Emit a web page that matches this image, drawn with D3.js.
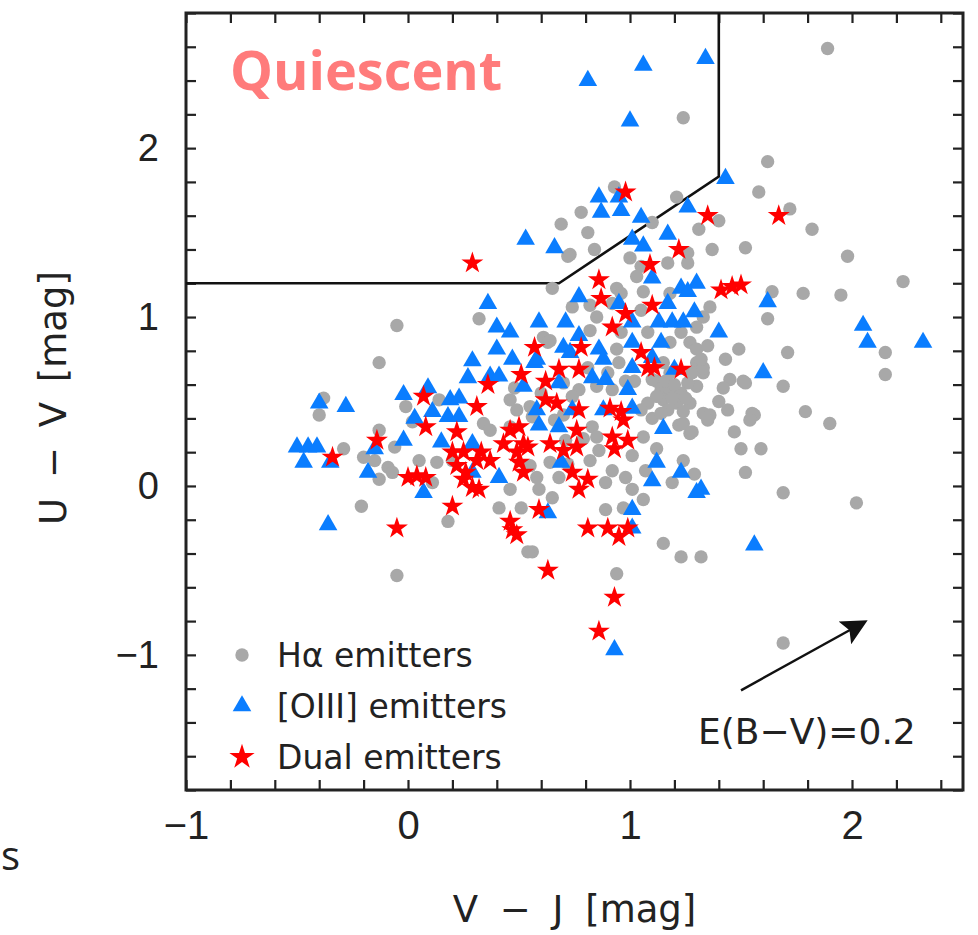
<!DOCTYPE html>
<html>
<head>
<meta charset="utf-8">
<script src="https://cdn.jsdelivr.net/npm/d3@7"></script>
<style>
  body { margin: 0; background: #fff; }
  svg { display: block; }
</style>
</head>
<body>
<div id="chart"></div>
<script>
// V-J, U-V colours
const haPoints = [
  [1.89, 2.59], [1.24, 2.18], [1.62, 1.92], [1.58, 1.74], [1.72, 1.64], [1.82, 1.52], [1.98, 1.36],
  [2.23, 1.21], [1.40, 1.57], [1.31, 1.52], [1.37, 1.40], [1.52, 1.41], [1.64, 1.15], [1.78, 1.14],
  [1.95, 1.13], [1.21, 1.71], [0.78, 1.62], [0.69, 1.55], [0.81, 1.50], [0.93, 1.77], [1.10, 1.56],
  [0.73, 1.37], [0.84, 1.40], [1.00, 1.35], [1.05, 1.30], [1.03, 1.24], [1.17, 1.32], [1.26, 1.32],
  [1.26, 1.38], [0.65, 1.17], [0.94, 1.17], [0.96, 1.14], [1.06, 1.15], [1.18, 1.14], [1.62, 0.99],
  [0.74, 1.06], [0.82, 1.07], [0.85, 1.00], [0.92, 1.08], [1.05, 1.04], [1.36, 1.06], [1.33, 1.00],
  [1.30, 0.94], [1.23, 0.91], [1.18, 0.85], [1.27, 0.85], [1.30, 0.81], [1.08, 0.91], [0.96, 0.91],
  [0.82, 0.92], [0.61, 0.88], [0.63, 0.85], [0.94, 0.81], [1.49, 0.81], [1.43, 0.75], [1.30, 0.73],
  [1.33, 0.67], [1.15, 0.73], [1.18, 0.67], [0.95, 0.73], [0.81, 0.70], [1.45, 0.63], [1.51, 0.62],
  [1.42, 0.58], [1.30, 0.59], [1.26, 0.61], [1.14, 0.57], [1.18, 0.57], [1.23, 0.55], [1.21, 0.49],
  [1.15, 0.51], [1.27, 0.49], [1.17, 0.45], [1.08, 0.49], [0.92, 0.57], [0.85, 0.59], [0.77, 0.57],
  [0.74, 0.53], [0.70, 0.61], [1.05, 0.45], [1.33, 0.43], [1.55, 0.43], [1.71, 0.79], [2.15, 0.79],
  [2.15, 0.66], [1.69, 0.59], [1.52, 0.61], [1.79, 0.44], [1.90, 0.37], [1.56, 0.42], [1.54, 0.39],
  [1.47, 0.32], [1.50, 0.22], [1.59, 0.22], [1.52, 0.08], [1.69, -0.04], [2.02, -0.10], [1.29, 0.07],
  [1.15, -0.34], [1.23, -0.42], [1.32, -0.42], [1.36, 0.42], [1.28, 0.67], [1.33, 0.70], [1.35, 0.83],
  [1.32, 0.75], [1.12, 0.62], [1.22, 0.36], [1.27, 0.31], [0.89, -0.14], [0.97, -0.13], [0.56, -0.39],
  [0.94, -0.52], [1.69, -0.93], [1.19, 0.02], [1.24, 0.15], [1.06, -0.08], [1.01, -0.02], [0.98, 0.05],
  [0.89, 0.02], [0.65, -0.07], [0.59, -0.02], [1.35, 0.39], [1.28, 0.32], [1.24, 0.37], [1.06, 0.29],
  [1.12, 0.22], [1.01, 0.18], [0.83, 0.35], [0.85, 0.29], [0.32, 0.99], [-0.05, 0.95], [-0.13, 0.73],
  [-0.38, 0.52], [-0.40, 0.42], [0.14, 0.51], [-0.01, 0.47], [0.46, 0.51], [0.49, 0.45], [0.64, 0.86],
  [0.02, 0.38], [0.34, 0.37], [0.37, 0.33], [0.46, 0.35], [-0.13, 0.33], [-0.29, 0.22], [-0.20, 0.17],
  [-0.15, 0.15], [-0.09, 0.11], [-0.07, 0.08], [-0.13, 0.04], [0.05, 0.15], [0.13, 0.14], [0.11, 0.02],
  [-0.06, 0.23], [0.20, 0.15], [0.46, -0.02], [0.18, -0.21], [-0.21, -0.12], [0.41, -0.13], [0.51, -0.13],
  [0.54, -0.39], [-0.05, -0.53], [0.72, 1.36], [0.56, 0.41], [0.64, 0.14], [0.58, 0.05], [0.68, 0.05],
  [0.66, 0.39], [0.71, 0.27], [0.82, 0.15], [0.86, 0.21], [0.55, 0.12], [0.92, 0.09], [1.07, 0.09],
  [1.10, 0.63], [1.16, 0.62], [1.20, 0.60], [1.25, 0.52], [1.12, 0.53], [1.19, 0.52], [1.24, 0.44],
  [1.10, 0.40], [1.14, 0.43], [0.98, 0.62], [0.90, 0.67], [1.02, 0.62], [0.70, 0.42], [0.55, 0.47],
  [0.60, 0.55], [0.48, 0.58], [0.79, 0.28], [0.72, 0.13], [1.40, 0.50], [1.44, 0.45]
];

const o3Points = [
  [0.81, 2.40], [1.06, 2.49], [1.34, 2.53], [1.00, 2.16], [1.43, 1.82], [0.86, 1.71], [0.95, 1.71],
  [0.87, 1.62], [0.96, 1.63], [1.05, 1.59], [1.26, 1.65], [1.17, 1.49], [1.06, 1.42], [1.01, 1.46],
  [0.66, 1.41], [0.53, 1.46], [1.10, 1.23], [1.23, 1.17], [1.30, 1.20], [1.26, 1.15], [1.62, 1.09],
  [0.77, 1.12], [0.95, 1.08], [1.17, 1.08], [0.59, 0.97], [0.71, 0.97], [0.77, 0.89], [0.70, 0.82],
  [0.73, 0.79], [0.86, 0.81], [0.88, 0.75], [1.01, 0.97], [1.13, 0.97], [1.19, 0.97], [1.24, 0.97],
  [1.29, 1.03], [1.40, 0.91], [1.14, 0.85], [1.01, 0.85], [1.60, 0.67], [0.57, 0.73], [0.68, 0.61],
  [0.83, 0.64], [0.89, 0.63], [0.99, 0.57], [1.01, 0.70], [1.10, 0.76], [1.20, 0.69], [0.88, 0.45],
  [1.01, 0.46], [0.74, 0.45], [0.36, 1.08], [0.40, 0.94], [0.46, 0.91], [0.40, 0.81], [0.29, 0.74],
  [0.47, 0.75], [0.58, 0.75], [0.27, 0.64], [0.37, 0.65], [0.41, 0.65], [0.09, 0.58], [-0.02, 0.54],
  [-0.40, 0.49], [-0.28, 0.47], [0.19, 0.51], [0.23, 0.52], [0.52, 0.59], [0.58, 0.45], [0.03, 0.40],
  [0.11, 0.44], [0.18, 0.41], [0.23, 0.41], [0.59, 0.36], [0.68, 0.35], [-0.02, 0.27], [0.15, 0.26],
  [0.29, 0.25], [-0.50, 0.23], [-0.45, 0.23], [-0.41, 0.23], [-0.47, 0.14], [-0.35, 0.14], [-0.15, 0.22],
  [-0.18, 0.08], [0.07, -0.04], [0.29, 0.08], [0.41, 0.05], [0.63, -0.16], [-0.36, -0.23], [1.01, -0.25],
  [1.01, -0.14], [0.93, -0.97], [1.56, -0.35], [1.32, -0.02], [1.30, -0.04], [1.23, 0.08], [1.15, 0.34],
  [1.12, 0.14], [1.10, 0.03], [2.05, 0.95], [2.07, 0.85], [2.32, 0.85], [0.69, 0.14]
];

const dualPoints = [
  [0.29, 1.32], [0.98, 1.74], [1.35, 1.60], [1.67, 1.60], [1.22, 1.40], [1.09, 1.31], [0.86, 1.22],
  [0.87, 1.11], [1.10, 1.07], [0.98, 1.02], [0.92, 0.94], [1.41, 1.16], [1.46, 1.18], [1.50, 1.19],
  [0.78, 0.82], [0.57, 0.82], [0.68, 0.69], [0.77, 0.69], [1.05, 0.79], [1.08, 0.70], [1.11, 0.70],
  [1.23, 0.69], [0.62, 0.62], [0.62, 0.51], [0.67, 0.49], [0.77, 0.45], [0.91, 0.46], [0.96, 0.44],
  [0.51, 0.66], [0.36, 0.60], [0.07, 0.53], [0.31, 0.47], [0.08, 0.35], [0.22, 0.32], [-0.14, 0.27],
  [-0.34, 0.17], [0.00, 0.05], [0.04, 0.06], [0.08, 0.05], [0.25, 0.20], [0.22, 0.12], [0.26, 0.08],
  [0.25, 0.04], [0.29, -0.01], [0.32, -0.02], [0.31, 0.15], [0.37, 0.15], [0.43, 0.25], [0.46, 0.33],
  [0.50, 0.35], [0.52, 0.25], [0.49, 0.20], [0.50, 0.14], [0.52, 0.08], [0.54, 0.23], [0.20, -0.12],
  [-0.05, -0.25], [0.59, -0.14], [0.46, -0.21], [0.47, -0.26], [0.49, -0.29], [0.81, -0.25], [0.90, -0.25],
  [0.95, -0.30], [0.99, -0.25], [0.63, -0.50], [0.93, -0.66], [0.86, -0.86], [0.74, 0.08], [0.81, 0.04],
  [0.77, -0.02], [0.92, 0.29], [0.99, 0.27], [0.93, 0.22], [0.97, 0.39], [0.76, 0.33], [0.76, 0.23],
  [0.70, 0.21], [0.64, 0.25], [0.20, 0.20], [0.33, 0.20]
];

// quiescent selection wedge and the reddening vector
const wedge = [[-1, 1.2], [0.68, 1.2], [1.4, 1.832], [1.4, 2.8]];
const reddening = [[1.5, -1.21], [2.05, -0.81]];

const xTickLabels = [-1, 0, 1, 2];
const yTickLabels = [-1, 0, 1, 2];

const width = 978, height = 935;
const x = d3.scaleLinear().domain([-1, 2.5]).range([186, 963]);
const y = d3.scaleLinear().domain([-1.8, 2.8]).range([790, 13]);

const svg = d3.select('#chart').append('svg')
  .attr('width', width)
  .attr('height', height)
  .attr('viewBox', [0, 0, width, height]);

const grayCol = '#a8a8a8', blueCol = '#0a7dff', redCol = '#ff0000';
const circle = d3.symbol().type(d3.symbolCircle).size(140);
const tri = d3.symbol().type(d3.symbolTriangle).size(150);
const star = d3.symbol().type(d3.symbolStar).size(150);

// minor ticks, pointing in, on every side of the box
const minorX = d3.range(-1, 2.501, 0.2);
const minorY = d3.range(-1.8, 2.801, 0.2);
const tickLen = 10;
const axes = svg.append('g').attr('class', 'axes');

axes.append('g')
  .attr('transform', `translate(0,${y.range()[0]})`)
  .call(d3.axisBottom(x).tickValues(minorX).tickSize(-tickLen).tickFormat(''));
axes.append('g')
  .attr('transform', `translate(0,${y.range()[1]})`)
  .call(d3.axisTop(x).tickValues(minorX).tickSize(-tickLen).tickFormat(''));
axes.append('g')
  .attr('transform', `translate(${x.range()[0]},0)`)
  .call(d3.axisLeft(y).tickValues(minorY).tickSize(-tickLen).tickFormat(''));
axes.append('g')
  .attr('transform', `translate(${x.range()[1]},0)`)
  .call(d3.axisRight(y).tickValues(minorY).tickSize(-tickLen).tickFormat(''));

axes.selectAll('.domain').remove();
axes.selectAll('.tick line').attr('stroke', '#222').attr('stroke-width', 2.2);

// tick labels
const xLab = svg.append('g')
  .attr('transform', `translate(0,${y.range()[0] + 18})`)
  .call(d3.axisBottom(x).tickValues(xTickLabels).tickSize(0).tickFormat(d => d < 0 ? '\u2212' + Math.abs(d) : d));
xLab.select('.domain').remove();
xLab.selectAll('text')
  .attr('font-family', '"Liberation Sans Narrow", "Liberation Sans", sans-serif')
  .attr('font-size', 40)
  .attr('fill', '#222');

const yLab = svg.append('g')
  .attr('transform', `translate(${x.range()[0] - 24},0)`)
  .call(d3.axisLeft(y).tickValues(yTickLabels).tickSize(0).tickFormat(d => d < 0 ? '\u2212' + Math.abs(d) : d));
yLab.select('.domain').remove();
yLab.selectAll('text')
  .attr('font-family', '"Liberation Sans", sans-serif')
  .attr('font-size', 38)
  .attr('fill', '#222');

// frame
svg.append('rect')
  .attr('x', x.range()[0])
  .attr('y', y.range()[1])
  .attr('width', x.range()[1] - x.range()[0])
  .attr('height', y.range()[0] - y.range()[1])
  .attr('fill', 'none')
  .attr('stroke', '#222')
  .attr('stroke-width', 3);

// axis titles
svg.append('text')
  .attr('x', (x.range()[0] + x.range()[1]) / 2)
  .attr('y', 922)
  .attr('text-anchor', 'middle')
  .attr('font-family', '"DejaVu Sans", sans-serif')
  .attr('font-size', 37)
  .attr('word-spacing', 10)
  .attr('fill', '#222')
  .text('V \u2212 J [mag]');

svg.append('text')
  .attr('transform', 'translate(66,398) rotate(-90)')
  .attr('text-anchor', 'middle')
  .attr('font-family', '"DejaVu Sans", sans-serif')
  .attr('font-size', 37)
  .attr('word-spacing', 8)
  .attr('fill', '#222')
  .text('U \u2212 V [mag]');

// stray glyph at the left edge of the source
svg.append('text')
  .attr('x', 1)
  .attr('y', 870)
  .attr('font-family', '"Open Sans", sans-serif')
  .attr('font-size', 40)
  .attr('fill', '#222')
  .text('s');

// quiescent wedge
svg.append('path')
  .attr('d', d3.line().x(d => x(d[0])).y(d => y(d[1]))(wedge))
  .attr('fill', 'none')
  .attr('stroke', '#111')
  .attr('stroke-width', 2.6);

svg.append('text')
  .attr('x', 230)
  .attr('y', 90)
  .attr('font-family', '"Open Sans", sans-serif')
  .attr('font-weight', 'bold')
  .attr('font-size', 54)
  .attr('fill', '#ff7b7b')
  .text('Quiescent');

// data
const pts = svg.append('g');
pts.selectAll('path.ha')
  .data(haPoints)
  .join('path')
  .attr('class', 'ha')
  .attr('d', circle)
  .attr('transform', d => `translate(${x(d[0])},${y(d[1])})`)
  .attr('fill', grayCol);

pts.selectAll('path.o3')
  .data(o3Points)
  .join('path')
  .attr('class', 'o3')
  .attr('d', tri)
  .attr('transform', d => `translate(${x(d[0])},${y(d[1])})`)
  .attr('fill', blueCol);

pts.selectAll('path.dual')
  .data(dualPoints)
  .join('path')
  .attr('class', 'dual')
  .attr('d', star)
  .attr('transform', d => `translate(${x(d[0])},${y(d[1])})`)
  .attr('fill', redCol);

// reddening arrow
svg.append('defs').append('marker')
  .attr('id', 'head')
  .attr('viewBox', '0 0 10 10')
  .attr('refX', 8)
  .attr('refY', 5)
  .attr('markerWidth', 32)
  .attr('markerHeight', 26)
  .attr('markerUnits', 'userSpaceOnUse')
  .attr('orient', 'auto')
  .append('path')
  .attr('d', 'M0,0 L10,5 L0,10 L2,5 Z')
  .attr('fill', '#111');

svg.append('line')
  .attr('x1', x(reddening[0][0]))
  .attr('y1', y(reddening[0][1]))
  .attr('x2', x(reddening[1][0]))
  .attr('y2', y(reddening[1][1]))
  .attr('stroke', '#111')
  .attr('stroke-width', 2.4)
  .attr('marker-end', 'url(#head)');

svg.append('text')
  .attr('x', 698)
  .attr('y', 744)
  .attr('font-family', '"DejaVu Sans", sans-serif')
  .attr('font-size', 36)
  .attr('fill', '#222')
  .text('E(B\u2212V)=0.2');

// legend
const legendItems = [
  { label: 'H\u03b1 emitters', shape: circle, color: grayCol },
  { label: '[OIII] emitters', shape: tri, color: blueCol },
  { label: 'Dual emitters', shape: star, color: redCol }
];
const legend = svg.append('g');
legendItems.forEach((item, i) => {
  const row = legend.append('g').attr('transform', `translate(242,${655 + i * 51})`);
  row.append('path')
    .attr('d', item.shape)
    .attr('fill', item.color)
    .attr('transform', i === 2 ? 'scale(1.15)' : null);
  row.append('text')
    .attr('x', 35)
    .attr('dy', '0.36em')
    .attr('font-family', '"DejaVu Sans", sans-serif')
    .attr('font-size', 33)
    .attr('fill', '#222')
    .text(item.label);
});
</script>
</body>
</html>
